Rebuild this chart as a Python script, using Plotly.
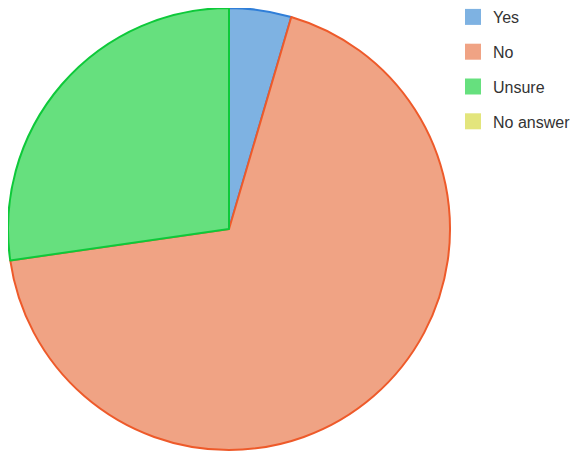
import plotly.graph_objects as go

labels = ["Yes", "No", "Unsure", "No answer"]
values = [1, 15, 6, 0]
fill_colors = ["#7eb2e2", "#f0a384", "#66e07e", "#e3e57c"]
line_colors = ["#2f7ed8", "#ee5a2a", "#0ec93a", "#c9cc3a"]

W, H = 578, 459
fig = go.Figure()
fig.add_trace(go.Pie(
    labels=labels, values=values, sort=False, direction="clockwise", rotation=0,
    textinfo="none", hoverinfo="label+value+percent",
    marker=dict(colors=fill_colors, line=dict(color=line_colors, width=[2, 2, 2, 0])),
    showlegend=False,
    domain=dict(x=[0, 442 / W], y=[(H - 442) / H, 1]),
))
for i, lab in enumerate(labels):
    fig.add_trace(go.Scatter(
        x=[None], y=[None], mode="markers", name=lab, legendgroup=lab,
        marker=dict(symbol="square", size=20, color=fill_colors[i]),
        showlegend=True, hoverinfo="skip",
    ))

fig.update_layout(
    width=W, height=H,
    margin=dict(l=0, r=0, t=0, b=0, autoexpand=False),
    paper_bgcolor="white", plot_bgcolor="white",
    xaxis=dict(visible=False), yaxis=dict(visible=False),
    font=dict(family="Liberation Sans, Arial, sans-serif", size=16, color="#333333"),
    legend=dict(x=445 / W, xanchor="left", y=1 + 8 / H, yanchor="top",
                tracegroupgap=11, itemwidth=30, bgcolor="rgba(0,0,0,0)"),
)
fig.write_html("out.html")
